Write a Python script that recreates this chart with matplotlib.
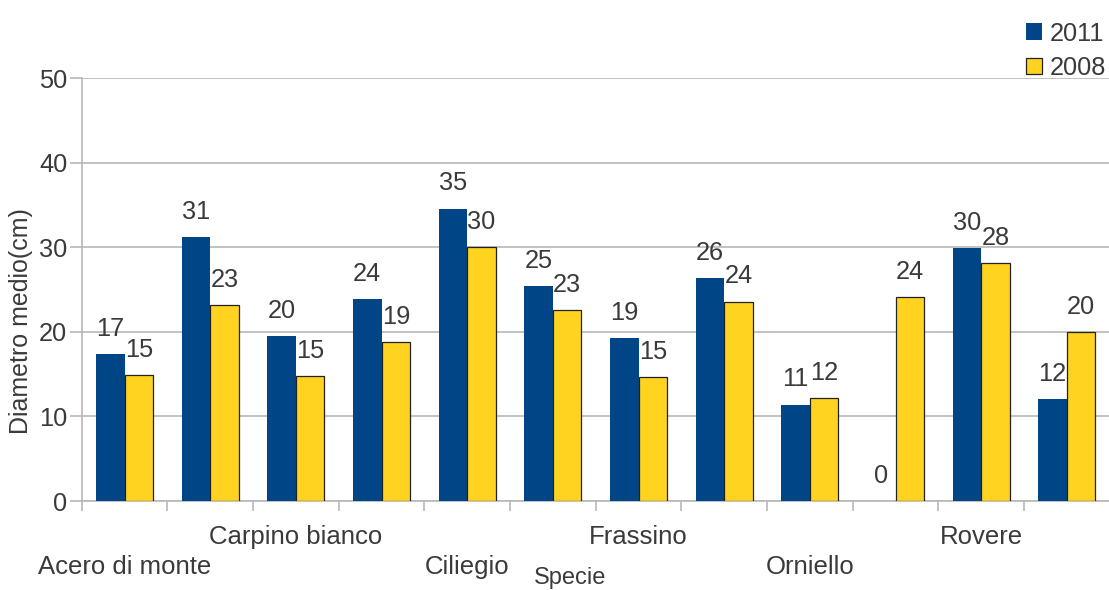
import matplotlib
matplotlib.use('Agg')
import matplotlib.pyplot as plt
import numpy as np

# Diametro medio per specie, confronto 2011 / 2008
specie = ['Acero di monte', '', 'Carpino bianco', '', 'Ciliegio', '',
          'Frassino', '', 'Orniello', '', 'Rovere', '']
diam_2011 = [17.4, 31.2, 19.5, 23.9, 34.6, 25.4, 19.3, 26.4, 11.4, 0, 29.9, 12.1]
diam_2008 = [14.9, 23.2, 14.8, 18.8, 30.0, 22.6, 14.7, 23.6, 12.2, 24.1, 28.1, 20.0]
anni = ['2011', '2008']
yticks = [0, 10, 20, 30, 40, 50]

BLU = '#004586'
GIALLO = '#ffd320'
TESTO = '#3a3a3a'
GRIGLIA = '#b8b8b8'

plt.rcParams['font.family'] = ['Liberation Sans', 'DejaVu Sans']

fig = plt.figure(figsize=(11.09, 5.90), dpi=100)
ax = fig.add_axes([0.0737, 0.1508, 0.927, 0.7164])

x = np.arange(len(specie))
w = 1 / 3
b1 = ax.bar(x - w / 2, diam_2011, w, color=BLU, label=anni[0], zorder=3)
b2 = ax.bar(x + w / 2, diam_2008, w, color=GIALLO, edgecolor='#222222',
            linewidth=0.9, label=anni[1], zorder=3)

for bars in (b1, b2):
    ax.bar_label(bars, fmt='%.0f', padding=9.5, fontsize=18.3, color=TESTO)

ax.set_xlim(-0.5, len(specie) - 0.5)
ax.set_ylim(0, 50)
ax.set_yticks(yticks)
ax.yaxis.grid(True, color=GRIGLIA, linewidth=1.2, zorder=0)
ax.tick_params(axis='y', length=8.5, width=1.2, color=GRIGLIA,
               labelsize=18.3, labelcolor=TESTO, pad=2)

# tacche tra le categorie, etichette su due righe alternate
ax.set_xticks(np.arange(len(specie) + 1) - 0.5)
ax.set_xticklabels([])
ax.tick_params(axis='x', length=7.5, width=1.2, color=GRIGLIA)
trans = ax.get_xaxis_transform()
for i, nome in enumerate(specie):
    if not nome:
        continue
    yy = -0.1560 if (i // 2) % 2 == 0 else -0.0850
    ax.text(i, yy, nome, transform=trans, ha='center', va='center',
            fontsize=18.5, color=TESTO)

for s in ('top', 'right'):
    ax.spines[s].set_visible(False)
for s in ('left', 'bottom'):
    ax.spines[s].set_color(GRIGLIA)
    ax.spines[s].set_linewidth(1.2)

ax.set_ylabel('Diametro medio(cm)', fontsize=18, color=TESTO)
ax.yaxis.set_label_coords(-0.0474, 0.426)
fig.text(0.514, 0.02, 'Specie', fontsize=17, color=TESTO, ha='center', va='center')

fig.legend(handles=[b1, b2], labels=anni, loc='upper right',
           bbox_to_anchor=(1.009, 0.985), frameon=False, fontsize=18.3,
           handlelength=0.62, handleheight=0.62, handletextpad=0.32,
           labelspacing=0.4, labelcolor=TESTO, borderaxespad=0.1)

fig.savefig('out.png', dpi=100)
